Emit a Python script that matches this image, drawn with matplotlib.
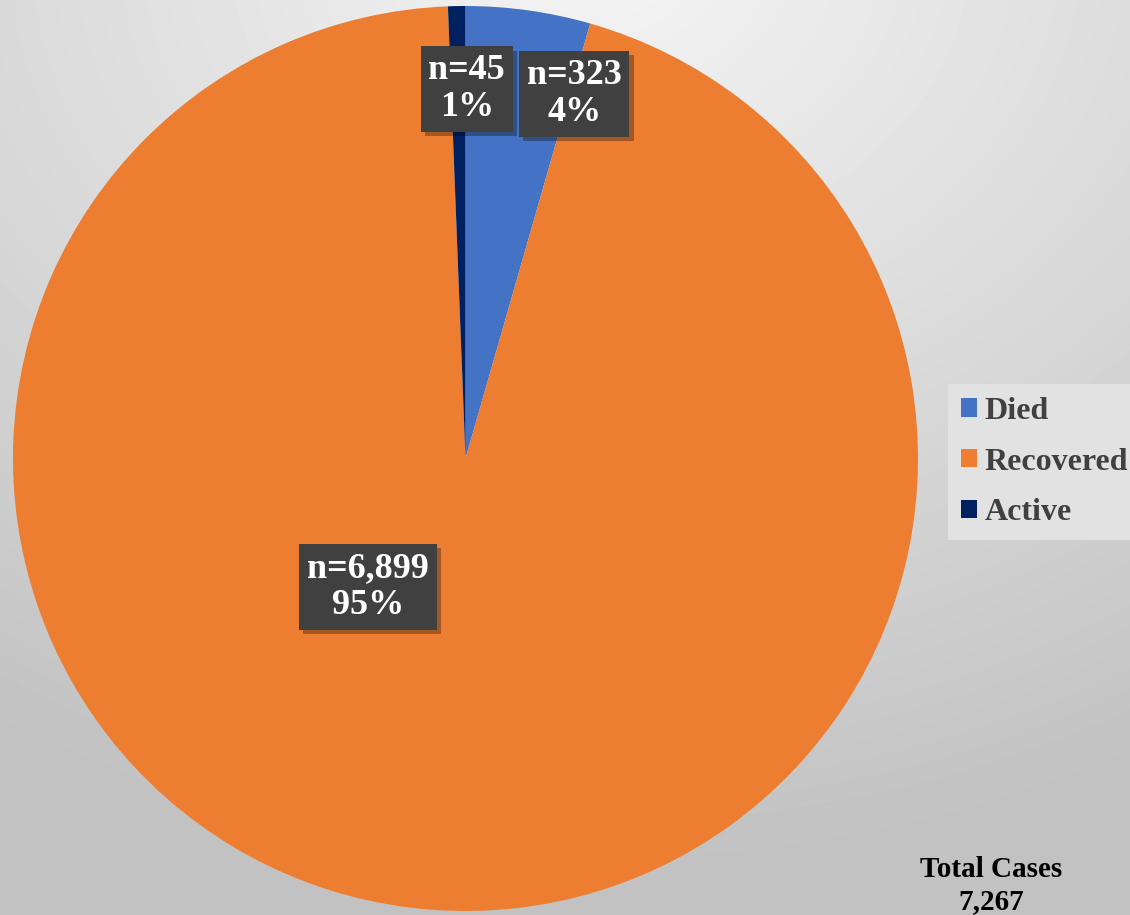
import matplotlib.pyplot as plt
import matplotlib.patheffects as pe
from matplotlib.patches import Patch
import numpy as np

# Data
categories = ["Died", "Recovered", "Active"]
counts = [323, 6899, 45]
colors = ["#4472C4", "#ED7D31", "#002060"]
# label box centres (pie axes units, radius = 1)
label_pos = [(0.24, 0.806), (-0.216, -0.284), (0.003, 0.816)]

plt.rcParams["font.family"] = ["Liberation Serif", "DejaVu Serif"]
plt.rcParams["font.weight"] = "bold"

W, H = 1130, 915
fig = plt.figure(figsize=(W / 100, H / 100), dpi=100)

# Gray radial background
bg = fig.add_axes([0, 0, 1, 1])
yy, xx = np.mgrid[0:H, 0:W]
d = np.sqrt(((xx - 600) / W) ** 2 + ((yy + 50) / H) ** 2)
shade = np.clip(0.96 - 0.2 * d, 0.76, 0.96)
bg.imshow(shade, cmap="gray", vmin=0, vmax=1, aspect="auto", extent=[0, W, H, 0])
bg.axis("off")

# Pie axes placed so that radius 1 = 452.5 px, centre at (465.5, 458.5)
cx, cy, r = 465.5, 458.5, 452.5
ax = fig.add_axes([(cx - r) / W, (H - cy - r) / H, 2 * r / W, 2 * r / H])
ax.pie(counts, colors=colors, startangle=90, counterclock=False,
       radius=1, wedgeprops=dict(linewidth=0))
ax.set_xlim(-1, 1)
ax.set_ylim(-1, 1)
ax.axis("off")

total = sum(counts)
for v, (x, y) in zip(counts, label_pos):
    txt = f"n={v:,}\n{round(100 * v / total)}%"
    t = ax.text(x, y, txt, ha="center", va="center", color="white",
                fontsize=26, fontweight="bold", linespacing=1.15,
                bbox=dict(boxstyle="square,pad=0.22", facecolor="#404040",
                          edgecolor="none"))
    t.get_bbox_patch().set_path_effects(
        [pe.SimplePatchShadow(offset=(3, -3), shadow_rgbFace="black", alpha=0.3),
         pe.Normal()])

# Legend
handles = [Patch(facecolor=c, edgecolor="none") for c in colors]
leg = fig.legend(handles, categories, loc="center left",
                 bbox_to_anchor=(948 / W, 1 - 462 / H), fontsize=23,
                 frameon=True, fancybox=False, handlelength=0.5,
                 handleheight=0.5, handletextpad=0.25, labelspacing=0.68,
                 borderpad=0.4, borderaxespad=0)
leg.get_frame().set_facecolor("#e2e2e2")
leg.get_frame().set_edgecolor("none")
leg.get_frame().set_alpha(1)
for t in leg.get_texts():
    t.set_color("#404040")
    t.set_fontweight("bold")

fig.text(991 / W, 1 - 856 / H, f"Total Cases\n{total:,}", ha="center",
         va="top", fontsize=21, fontweight="bold", color="black",
         linespacing=1.25)

fig.savefig("out.png", dpi=100)
